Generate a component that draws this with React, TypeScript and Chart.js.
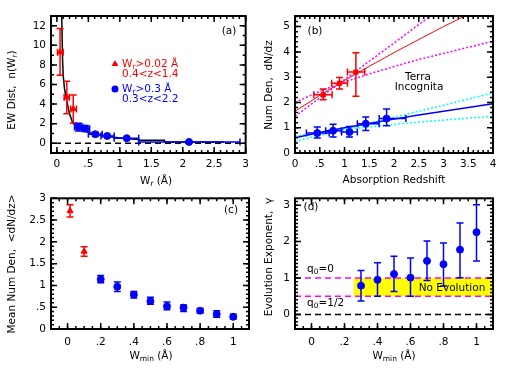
import React, { useEffect, useRef } from "react";
import { Chart, registerables } from "chart.js";
Chart.register(...registerables);

const RED = "#ff0000";
const BLUE = "#0000ff";
const MAGENTA = "#ff00ff";
const CYAN = "#00ffff";
const YELLOW = "#ffff00";
const BLACK = "#000000";
const FAM = '"DejaVu Sans", sans-serif';
const FS = 10.5;
const SUBFS = 7.5;

// ---------------- Panel (a): EW distribution ----------------
const aXTicks = [0, 0.5, 1, 1.5, 2, 2.5, 3];
const aXLabels = ["0", ".5", "1", "1.5", "2", "2.5", "3"];
const aYTicks = [0, 2, 4, 6, 8, 10, 12];
const aYLabels = ["0", "2", "4", "6", "8", "10", "12"];
const aRedX = [0.05, 0.157, 0.26];
const aRedY = [9.3, 4.7, 3.5];
const aRedXLo = [0.01, 0.115, 0.22];
const aRedXHi = [0.1, 0.198, 0.31];
const aRedYLo = [6.95, 3.0, 2.07];
const aRedYHi = [11.73, 6.33, 4.93];
const aBlueX = [0.344, 0.45, 0.61, 0.8, 1.11, 2.1];
const aBlueY = [1.66, 1.49, 0.92, 0.74, 0.51, 0.13];
const aBlueXLo = [0.28, 0.4, 0.5, 0.7, 0.91, 1.3];
const aBlueXHi = [0.41, 0.52, 0.72, 0.91, 1.3, 2.91];
const aBlueYLo = [1.26, 1.2, 0.72, 0.6, 0.4, 0.08];
const aBlueYHi = [2.04, 1.8, 1.12, 0.88, 0.62, 0.18];
const aCurveX = [0.072, 0.078, 0.09, 0.1, 0.12, 0.146, 0.2, 0.25, 0.3, 0.35, 0.45, 0.5, 0.6, 0.7, 0.9, 1.1, 1.3, 1.3, 1.71, 1.71, 2.66];
const aCurveY = [14, 12.5, 8.5, 6.9, 5.6, 4.65, 3.0, 2.1, 1.75, 1.55, 1.3, 1.1, 0.95, 0.8, 0.6, 0.48, 0.38, 0.31, 0.31, 0.13, 0.13];
const aZeroX = [-0.03, 3];
const aZeroY = [0, 0];

// ---------------- Panel (b): number density vs redshift ----------------
const bXTicks = [0, 0.5, 1, 1.5, 2, 2.5, 3, 3.5, 4];
const bXLabels = ["0", ".5", "1", "1.5", "2", "2.5", "3", "3.5", "4"];
const bYTicks = [0, 1, 2, 3, 4, 5];
const bYLabels = ["0", "1", "2", "3", "4", "5"];
const bRedX = [0.57, 0.9, 1.23];
const bRedY = [2.3, 2.76, 3.2];
const bRedXLo = [0.38, 0.74, 1.06];
const bRedXHi = [0.75, 1.06, 1.41];
const bRedYLo = [2.11, 2.53, 2.25];
const bRedYHi = [2.53, 2.99, 3.97];
const bBlueX = [0.45, 0.77, 1.1, 1.43, 1.85];
const bBlueY = [0.79, 0.88, 0.83, 1.16, 1.36];
const bBlueXLo = [0.23, 0.62, 0.94, 1.26, 1.7];
const bBlueXHi = [0.69, 0.94, 1.26, 1.7, 2.24];
const bBlueYLo = [0.59, 0.63, 0.63, 0.89, 1.08];
const bBlueYHi = [1.03, 1.14, 1.05, 1.42, 1.74];
const bZ = [0, 0.5, 1, 1.5, 2, 2.5, 3, 3.5, 4];
const bRedFit = [1.65, 2.28, 2.87, 3.43, 3.97, 4.49, 5.0, 5.49, 5.98];
const bRedBandFlat = [2.0, 2.44, 2.81, 3.13, 3.42, 3.7, 3.94, 4.18, 4.42];
const bRedBandSteep = [1.45, 2.18, 2.9, 3.63, 4.35, 5.08, 5.8, 6.53, 7.25];
const bBlueFit = [0.6, 0.81, 0.995, 1.17, 1.34, 1.5, 1.65, 1.8, 1.95];
const bBlueBandFlat = [0.66, 0.81, 0.93, 1.03, 1.13, 1.22, 1.3, 1.38, 1.45];
const bBlueBandSteep = [0.46, 0.7, 0.93, 1.17, 1.41, 1.65, 1.89, 2.13, 2.38];

// ---------------- Panel (c): mean number density vs Wmin ----------------
const cXTicks = [0, 0.2, 0.4, 0.6, 0.8, 1];
const cXLabels = ["0", ".2", ".4", ".6", ".8", "1"];
const cYTicks = [0, 0.5, 1, 1.5, 2, 2.5, 3];
const cYLabels = ["0", ".5", "1", "1.5", "2", "2.5", "3"];
const cRedX = [0.015, 0.1];
const cRedY = [2.71, 1.78];
const cRedLo = [2.57, 1.67];
const cRedHi = [2.85, 1.89];
const cBlueX = [0.2, 0.3, 0.4, 0.5, 0.6, 0.7, 0.8, 0.9, 1.0];
const cBlueY = [1.14, 0.97, 0.79, 0.64, 0.52, 0.49, 0.42, 0.34, 0.28];
const cBlueLo = [1.06, 0.86, 0.71, 0.57, 0.44, 0.4, 0.36, 0.27, 0.23];
const cBlueHi = [1.23, 1.08, 0.86, 0.73, 0.62, 0.55, 0.47, 0.42, 0.34];

// ---------------- Panel (d): evolution exponent vs Wmin ----------------
const dXTicks = [0, 0.2, 0.4, 0.6, 0.8, 1];
const dXLabels = ["0", ".2", ".4", ".6", ".8", "1"];
const dYTicks = [0, 1, 2, 3];
const dYLabels = ["0", "1", "2", "3"];
const dX = [0.3, 0.4, 0.5, 0.6, 0.7, 0.8, 0.9, 1.0];
const dY = [0.79, 0.95, 1.11, 1.01, 1.47, 1.38, 1.78, 2.26];
const dLo = [0.37, 0.5, 0.63, 0.5, 0.93, 0.78, 1.01, 1.47];
const dHi = [1.21, 1.42, 1.6, 1.55, 2.02, 1.96, 2.51, 3.01];
const dBoxX = [0.254, 1.1];
const dBoxLow = [0.5, 0.5];
const dBoxHigh = [1, 1];
const dQ0X = [-0.1, 1.1];
const dQ0Zero = [1, 1];
const dQ0Half = [0.5, 0.5];
const dZero = [0, 0];

// ---------------- helpers ----------------
const pts = (xs: number[], ys: number[]) => xs.map((x, i) => ({ x, y: ys[i] }));

type Part = [string, boolean?];
type Txt = { parts: Part[]; x: number; y: number; align?: "left" | "center"; color?: string; rot?: boolean };
type Err = { xs: number[]; ys: number[]; xlo?: number[]; xhi?: number[]; ylo?: number[]; yhi?: number[]; color: string };
type Mark = { style: "triangle" | "circle"; x: number; y: number; color: string; r: number };
type Deco = { minorX: number; minorY: number; errs: Err[]; texts: Txt[]; marks?: Mark[] };

function drawRich(ctx: CanvasRenderingContext2D, t: Txt) {
  ctx.save();
  ctx.translate(t.x, t.y);
  if (t.rot) ctx.rotate(-Math.PI / 2);
  ctx.fillStyle = t.color || BLACK;
  ctx.textBaseline = "middle";
  ctx.textAlign = "left";
  const fontOf = (sub?: boolean) => `${sub ? SUBFS : FS}px ${FAM}`;
  const widths = t.parts.map((p) => {
    ctx.font = fontOf(p[1]);
    return ctx.measureText(p[0]).width;
  });
  const total = widths.reduce((a, b) => a + b, 0);
  let cx = t.align === "left" ? 0 : -total / 2;
  t.parts.forEach((p, i) => {
    ctx.font = fontOf(p[1]);
    ctx.fillText(p[0], cx, p[1] ? 3 : 0);
    cx += widths[i];
  });
  ctx.restore();
}

function makeDeco(cfg: Deco) {
  return {
    id: "deco",
    afterDatasetsDraw(chart: any) {
      const ctx = chart.ctx as CanvasRenderingContext2D;
      const xs = chart.scales.x;
      const ys = chart.scales.y;
      const a = chart.chartArea;
      ctx.save();
      ctx.beginPath();
      ctx.rect(a.left, a.top, a.right - a.left, a.bottom - a.top);
      ctx.clip();
      ctx.lineWidth = 1.5;
      const cap = 3.5;
      for (const e of cfg.errs) {
        ctx.strokeStyle = e.color;
        e.xs.forEach((xv, i) => {
          const px = xs.getPixelForValue(xv);
          const py = ys.getPixelForValue(e.ys[i]);
          ctx.beginPath();
          if (e.ylo && e.yhi) {
            const y1 = ys.getPixelForValue(e.ylo[i]);
            const y2 = ys.getPixelForValue(e.yhi[i]);
            ctx.moveTo(px, y1); ctx.lineTo(px, y2);
            ctx.moveTo(px - cap, y1); ctx.lineTo(px + cap, y1);
            ctx.moveTo(px - cap, y2); ctx.lineTo(px + cap, y2);
          }
          if (e.xlo && e.xhi) {
            const x1 = xs.getPixelForValue(e.xlo[i]);
            const x2 = xs.getPixelForValue(e.xhi[i]);
            ctx.moveTo(x1, py); ctx.lineTo(x2, py);
            ctx.moveTo(x1, py - cap); ctx.lineTo(x1, py + cap);
            ctx.moveTo(x2, py - cap); ctx.lineTo(x2, py + cap);
          }
          ctx.stroke();
        });
      }
      ctx.restore();
    },
    afterDraw(chart: any) {
      const ctx = chart.ctx as CanvasRenderingContext2D;
      const a = chart.chartArea;
      const xs = chart.scales.x;
      const ys = chart.scales.y;
      ctx.save();
      ctx.strokeStyle = BLACK;
      // ticks
      ctx.lineWidth = 1.5;
      const doTicks = (scale: any, horiz: boolean, minor: number) => {
        const seg = (v: number, len: number) => {
          const p = scale.getPixelForValue(v);
          ctx.beginPath();
          if (horiz) {
            ctx.moveTo(p, a.bottom); ctx.lineTo(p, a.bottom - len);
            ctx.moveTo(p, a.top); ctx.lineTo(p, a.top + len);
          } else {
            ctx.moveTo(a.left, p); ctx.lineTo(a.left + len, p);
            ctx.moveTo(a.right, p); ctx.lineTo(a.right - len, p);
          }
          ctx.stroke();
        };
        const start = Math.ceil(scale.min / minor - 1e-6);
        for (let k = start; k * minor <= scale.max + 1e-9; k++) seg(k * minor, 3);
        scale.ticks.forEach((t: any) => seg(t.value, 6));
      };
      doTicks(xs, true, cfg.minorX);
      doTicks(ys, false, cfg.minorY);
      // frame
      ctx.lineWidth = 2;
      ctx.strokeRect(a.left, a.top, a.right - a.left, a.bottom - a.top);
      // legend marks
      (cfg.marks || []).forEach((m) => {
        ctx.fillStyle = m.color;
        ctx.beginPath();
        if (m.style === "circle") {
          ctx.arc(m.x, m.y, m.r, 0, Math.PI * 2);
        } else {
          ctx.moveTo(m.x, m.y - m.r);
          ctx.lineTo(m.x + m.r * 0.87, m.y + m.r * 0.5);
          ctx.lineTo(m.x - m.r * 0.87, m.y + m.r * 0.5);
          ctx.closePath();
        }
        ctx.fill();
      });
      ctx.restore();
      cfg.texts.forEach((t) => drawRich(ctx, t));
    },
  };
}

function axis(min: number, max: number, ticks: number[], labels: string[], fit: { w?: number; h?: number }, pad: number) {
  return {
    type: "linear",
    min,
    max,
    grid: { display: false, drawTicks: false },
    border: { display: false },
    afterBuildTicks: (ax: any) => {
      ax.ticks = ticks.map((v) => ({ value: v }));
    },
    afterFit: (ax: any) => {
      if (fit.w != null) ax.width = fit.w;
      if (fit.h != null) ax.height = fit.h;
    },
    ticks: {
      callback: (_v: any, i: number) => labels[i],
      font: { family: FAM, size: FS },
      color: BLACK,
      padding: pad,
      autoSkip: false,
      maxRotation: 0,
      minRotation: 0,
    },
  };
}

function baseOptions(pad: any, x: any, y: any) {
  return {
    responsive: false,
    maintainAspectRatio: false,
    animation: false,
    events: [],
    layout: { padding: pad },
    plugins: { legend: { display: false }, tooltip: { enabled: false } },
    scales: { x, y },
  };
}

const lineDs = (data: any[], color: string, width: number, dash: number[] = [], order = 5) => ({
  type: "line",
  data,
  borderColor: color,
  borderWidth: width,
  borderDash: dash,
  pointRadius: 0,
  tension: 0,
  fill: false,
  order,
});

const pointDs = (data: any[], color: string, style: string, r: number) => ({
  type: "line",
  data,
  showLine: false,
  pointStyle: style,
  pointRadius: r,
  pointBackgroundColor: color,
  pointBorderColor: color,
  pointBorderWidth: 1,
  order: 0,
});

// ---------------- chart configs ----------------
function configA() {
  const deco: Deco = {
    minorX: 0.1,
    minorY: 1,
    errs: [
      { xs: aRedX, ys: aRedY, xlo: aRedXLo, xhi: aRedXHi, ylo: aRedYLo, yhi: aRedYHi, color: RED },
      { xs: aBlueX, ys: aBlueY, xlo: aBlueXLo, xhi: aBlueXHi, ylo: aBlueYLo, yhi: aBlueYHi, color: BLUE },
    ],
    marks: [
      { style: "triangle", x: 115, y: 64, color: RED, r: 4 },
      { style: "circle", x: 115, y: 89, color: BLUE, r: 3.5 },
    ],
    texts: [
      { parts: [["EW Dist,  n(W"], ["r", true], [")"]], x: 12, y: 90, rot: true },
      { parts: [["W"], ["r", true], [" (Å)"]], x: 156, y: 181 },
      { parts: [["(a)"]], x: 229, y: 31 },
      { parts: [["W"], ["r", true], [">0.02 Å"]], x: 122, y: 64, align: "left", color: RED },
      { parts: [["0.4<z<1.4"]], x: 122, y: 74, align: "left", color: RED },
      { parts: [["W"], ["r", true], [">0.3 Å"]], x: 122, y: 89, align: "left", color: BLUE },
      { parts: [["0.3<z<2.2"]], x: 122, y: 99, align: "left", color: BLUE },
    ],
  };
  return {
    type: "line",
    data: {
      datasets: [
        pointDs(pts(aRedX, aRedY), RED, "triangle", 3.5),
        pointDs(pts(aBlueX, aBlueY), BLUE, "circle", 3.5),
        lineDs(pts(aCurveX, aCurveY), BLACK, 1.5),
        lineDs(pts(aZeroX, aZeroY), BLACK, 1.5, [6, 4]),
      ],
    },
    options: baseOptions(
      { left: 0, right: 5, top: 16, bottom: 0 },
      axis(-0.094, 3, aXTicks, aXLabels, { h: 34 }, 5),
      axis(-1, 13, aYTicks, aYLabels, { w: 51 }, 5)
    ),
    plugins: [makeDeco(deco)],
  };
}

function configB() {
  const deco: Deco = {
    minorX: 0.1,
    minorY: 0.2,
    errs: [
      { xs: bRedX, ys: bRedY, xlo: bRedXLo, xhi: bRedXHi, ylo: bRedYLo, yhi: bRedYHi, color: RED },
      { xs: bBlueX, ys: bBlueY, xlo: bBlueXLo, xhi: bBlueXHi, ylo: bBlueYLo, yhi: bBlueYHi, color: BLUE },
    ],
    texts: [
      { parts: [["Num Den,  dN/dz"]], x: 15, y: 85, rot: true },
      { parts: [["Absorption Redshift"]], x: 140, y: 180 },
      { parts: [["(b)"]], x: 61, y: 31 },
      { parts: [["Terra"]], x: 164, y: 77.5 },
      { parts: [["Incognita"]], x: 165, y: 87.5 },
    ],
  };
  return {
    type: "line",
    data: {
      datasets: [
        pointDs(pts(bRedX, bRedY), RED, "rect", 3),
        pointDs(pts(bBlueX, bBlueY), BLUE, "circle", 3.5),
        lineDs(pts(bZ, bRedFit), RED, 1),
        lineDs(pts(bZ, bRedBandFlat), MAGENTA, 1.5, [2, 2]),
        lineDs(pts(bZ, bRedBandSteep), MAGENTA, 1.5, [2, 2]),
        lineDs(pts(bZ, bBlueFit), BLUE, 1.5),
        lineDs(pts(bZ, bBlueBandFlat), CYAN, 1.5, [2, 2]),
        lineDs(pts(bZ, bBlueBandSteep), CYAN, 1.5, [2, 2]),
      ],
    },
    options: baseOptions(
      { left: 0, right: 15, top: 16, bottom: 0 },
      axis(0, 4, bXTicks, bXLabels, { h: 34 }, 5),
      axis(0, 5.42, bYTicks, bYLabels, { w: 41 }, 5)
    ),
    plugins: [makeDeco(deco)],
  };
}

function configC() {
  const deco: Deco = {
    minorX: 0.05,
    minorY: 0.1,
    errs: [
      { xs: cRedX, ys: cRedY, ylo: cRedLo, yhi: cRedHi, color: RED },
      { xs: cBlueX, ys: cBlueY, ylo: cBlueLo, yhi: cBlueHi, color: BLUE },
    ],
    texts: [
      { parts: [["Mean Num Den,  <dN/dz>"]], x: 12, y: 77, rot: true },
      { parts: [["W"], ["min", true], [" (Å)"]], x: 151, y: 169 },
      { parts: [["(c)"]], x: 231, y: 23 },
    ],
  };
  return {
    type: "line",
    data: {
      datasets: [
        pointDs(pts(cRedX, cRedY), RED, "triangle", 3.5),
        pointDs(pts(cBlueX, cBlueY), BLUE, "circle", 3.5),
      ],
    },
    options: baseOptions(
      { left: 0, right: 5, top: 5, bottom: 0 },
      axis(-0.1, 1.095, cXTicks, cXLabels, { h: 45 }, 7),
      axis(0, 3, cYTicks, cYLabels, { w: 51 }, 5)
    ),
    plugins: [makeDeco(deco)],
  };
}

function configD() {
  const deco: Deco = {
    minorX: 0.05,
    minorY: 0.1,
    errs: [{ xs: dX, ys: dY, ylo: dLo, yhi: dHi, color: BLUE }],
    texts: [
      { parts: [["Evolution Exponent,  γ"]], x: 15, y: 70, rot: true },
      { parts: [["W"], ["min", true], [" (Å)"]], x: 140, y: 169 },
      { parts: [["(d)"]], x: 57, y: 20 },
      { parts: [["q"], ["0", true], ["=0"]], x: 53, y: 82, align: "left" },
      { parts: [["q"], ["0", true], ["=1/2"]], x: 53, y: 116, align: "left" },
      { parts: [["No Evolution"]], x: 198, y: 101 },
    ],
  };
  return {
    type: "line",
    data: {
      datasets: [
        { ...lineDs(pts(dBoxX, dBoxLow), YELLOW, 0, [], 10) },
        { ...lineDs(pts(dBoxX, dBoxHigh), YELLOW, 0, [], 10), fill: "-1", backgroundColor: YELLOW },
        lineDs(pts(dQ0X, dQ0Zero), MAGENTA, 1.5, [6, 4]),
        lineDs(pts(dQ0X, dQ0Half), MAGENTA, 1.5, [6, 4]),
        lineDs(pts(dQ0X, dZero), BLACK, 1.5, [6, 4]),
        pointDs(pts(dX, dY), BLUE, "circle", 3.5),
      ],
    },
    options: baseOptions(
      { left: 0, right: 15, top: 5, bottom: 0 },
      axis(-0.1, 1.1, dXTicks, dXLabels, { h: 45 }, 7),
      axis(-0.4, 3.19, dYTicks, dYLabels, { w: 41 }, 5)
    ),
    plugins: [makeDeco(deco)],
  };
}

function Panel({ left, top, make }: { left: number; top: number; make: () => any }) {
  const ref = useRef<HTMLCanvasElement>(null);
  useEffect(() => {
    const chart = new Chart(ref.current as HTMLCanvasElement, make() as any);
    return () => chart.destroy();
  }, []);
  return (
    <canvas
      ref={ref}
      width={254}
      height={187}
      style={{ position: "absolute", left, top, width: 254, height: 187 }}
    />
  );
}

export default function App() {
  return (
    <div style={{ position: "fixed", left: 0, top: 0, width: 508, height: 374, background: "#ffffff" }}>
      <Panel left={0} top={0} make={configA} />
      <Panel left={254} top={0} make={configB} />
      <Panel left={0} top={187} make={configC} />
      <Panel left={254} top={187} make={configD} />
    </div>
  );
}
